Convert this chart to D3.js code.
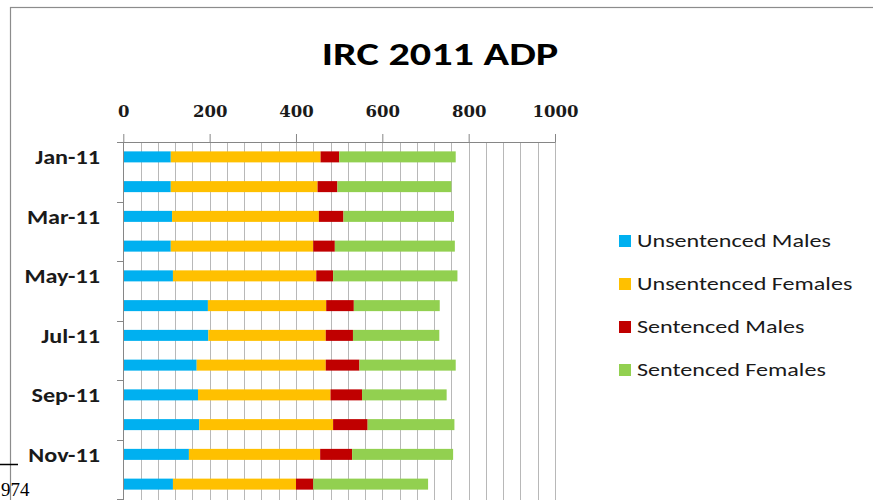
<!DOCTYPE html>
<html>
<head>
<meta charset="utf-8">
<script src="https://cdn.jsdelivr.net/npm/d3@7"></script>
<style>
  html, body { margin: 0; padding: 0; background: #fff; }
  svg { display: block; }
</style>
</head>
<body>
<svg id="chart" width="873" height="500"></svg>
<script>
// Average daily population by month, 2011
const months = ["Jan-11","Feb-11","Mar-11","Apr-11","May-11","Jun-11",
                "Jul-11","Aug-11","Sep-11","Oct-11","Nov-11","Dec-11"];
const seriesNames = ["Unsentenced Males","Unsentenced Females","Sentenced Males","Sentenced Females"];
const unsentencedMales   = [110, 110, 113, 110, 115, 196, 197, 170, 173, 176, 152, 115];
const unsentencedFemales = [347, 340, 340, 330, 332, 274, 272, 299, 307, 310, 304, 285];
const sentencedMales     = [ 43,  46,  57,  50,  39,  64,  63,  78,  73,  80,  74,  40];
const sentencedFemales   = [270, 264, 256, 278, 288, 199, 200, 223, 196, 201, 234, 266];
const xTicks = [0, 200, 400, 600, 800, 1000];
const labelledMonths = ["Jan-11","Mar-11","May-11","Jul-11","Sep-11","Nov-11"];
const colors = ["#00b0f0", "#ffc000", "#c00000", "#92d050"];

const svg = d3.select("#chart");
const sans = "Carlito, Lato, sans-serif";

// chart frame
svg.append("rect")
  .attr("x", 10.5).attr("y", 7.5)
  .attr("width", 880).attr("height", 520)
  .attr("fill", "#fff").attr("stroke", "#8c8c8c").attr("stroke-width", 1.2);

// footnote fragment at the lower left
svg.append("line").attr("x1", 0).attr("x2", 18).attr("y1", 464.5).attr("y2", 464.5)
  .attr("stroke", "#000").attr("stroke-width", 1.5);
svg.append("text").attr("x", 1).attr("y", 496)
  .attr("font-family", "Liberation Serif, serif").attr("font-size", 19)
  .attr("fill", "#000").text("974");

// title (wide letterforms)
svg.append("text")
  .attr("transform", "translate(440,65) scale(1.28,1)")
  .attr("text-anchor", "middle")
  .attr("font-family", sans).attr("font-weight", "bold")
  .attr("font-size", 33).attr("fill", "#000")
  .text("IRC 2011 ADP");

const x = d3.scaleLinear().domain([0, 1000]).range([123.3, 555]);
const y = d3.scaleBand().domain(months).range([142, 499])
  .paddingInner(0.63).paddingOuter(0.315);

// vertical gridlines
svg.append("g").selectAll("line")
  .data(d3.range(40, 1001, 40))
  .join("line")
  .attr("x1", d => Math.round(x(d)) + 0.5).attr("x2", d => Math.round(x(d)) + 0.5)
  .attr("y1", 142).attr("y2", 500)
  .attr("stroke", "#b8b8b8").attr("stroke-width", 1);

// stacked bars
const rows = months.map((m, i) => ({
  month: m,
  values: [unsentencedMales[i], unsentencedFemales[i], sentencedMales[i], sentencedFemales[i]]
}));
const stack = d3.stack().keys([0, 1, 2, 3]).value((d, k) => d.values[k]);
const layers = stack(rows);

svg.append("g").selectAll("g")
  .data(layers)
  .join("g")
  .attr("fill", (d, i) => colors[i])
  .selectAll("rect")
  .data(d => d)
  .join("rect")
  .attr("x", d => x(d[0]))
  .attr("width", d => x(d[1]) - x(d[0]))
  .attr("y", d => y(d.data.month))
  .attr("height", y.bandwidth());

// top value axis
const xAxis = svg.append("g")
  .attr("transform", "translate(0,142)")
  .call(d3.axisTop(x).tickValues(xTicks).tickFormat(d3.format("d"))
    .tickSize(8).tickPadding(17).tickSizeOuter(0));
xAxis.select(".domain").attr("stroke", "#868686");
xAxis.selectAll(".tick line").attr("stroke", "#868686");
xAxis.selectAll("text")
  .attr("font-family", "DejaVu Serif, serif").attr("font-weight", "bold")
  .attr("font-size", 16.5).attr("fill", "#1a1a1a");

// left category axis: tick marks every two months, labels on alternating months
const step = y.step();
const top0 = y.range()[0];
const yAxis = svg.append("g");
yAxis.append("line")
  .attr("x1", 123.5).attr("x2", 123.5).attr("y1", 142).attr("y2", 500)
  .attr("stroke", "#868686");
yAxis.selectAll("line.tk")
  .data(d3.range(0, months.length + 1, 2))
  .join("line").attr("class", "tk")
  .attr("x1", 117).attr("x2", 123.5)
  .attr("y1", d => Math.round(top0 + d * step) + 0.5)
  .attr("y2", d => Math.round(top0 + d * step) + 0.5)
  .attr("stroke", "#868686");
yAxis.selectAll("text")
  .data(labelledMonths)
  .join("text")
  .attr("transform", d => `translate(100,${y(d) + y.bandwidth() / 2 + 7.5}) scale(1.18,1)`)
  .attr("text-anchor", "end")
  .attr("font-family", sans).attr("font-weight", "bold")
  .attr("font-size", 20.5).attr("fill", "#1a1a1a")
  .text(d => d);

// legend
const legend = svg.append("g").attr("transform", "translate(619,235)");
const items = legend.selectAll("g")
  .data(seriesNames)
  .join("g")
  .attr("transform", (d, i) => `translate(0,${i * 43})`);
items.append("rect")
  .attr("width", 12).attr("height", 12)
  .attr("fill", (d, i) => colors[i]);
items.append("text")
  .attr("transform", "translate(18,12) scale(1.27,1)")
  .attr("font-family", sans)
  .attr("font-size", 19).attr("fill", "#1a1a1a")
  .text(d => d);
</script>
</body>
</html>
